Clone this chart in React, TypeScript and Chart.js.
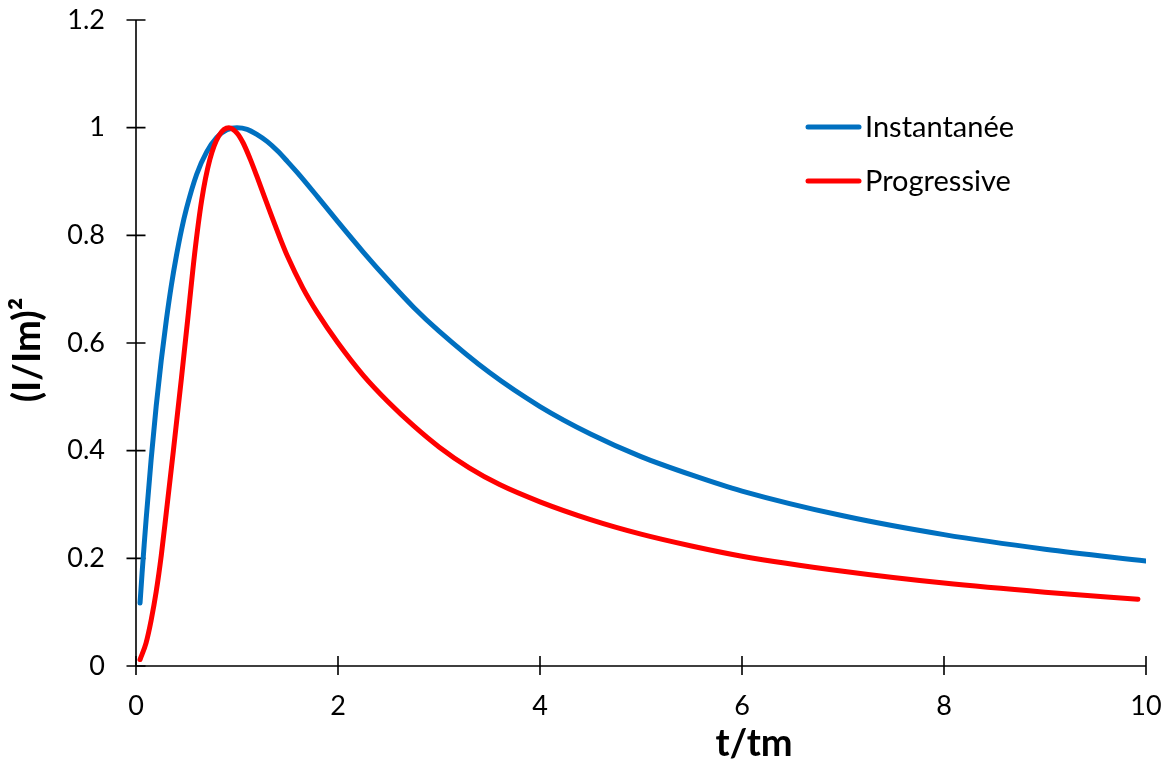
import React, { useEffect, useRef } from "react";
import { Chart, registerables } from "chart.js";

Chart.register(...registerables);

// t/tm values and (I/Im)^2
const instT = [0.04, 0.06, 0.08, 0.1, 0.15, 0.2, 0.25, 0.3, 0.35, 0.4, 0.45, 0.5, 0.6, 0.7, 0.8, 0.9, 1.0, 1.1, 1.2, 1.3, 1.4, 1.5, 1.6, 1.8, 2.0, 2.25, 2.5, 2.75, 3.0, 3.5, 4, 4.5, 5, 5.5, 6, 7, 8, 9, 10];
const instY = [0.117, 0.172, 0.223, 0.272, 0.384, 0.483, 0.568, 0.642, 0.707, 0.762, 0.81, 0.85, 0.913, 0.955, 0.982, 0.996, 1.0, 0.997, 0.987, 0.974, 0.957, 0.937, 0.916, 0.871, 0.825, 0.769, 0.716, 0.666, 0.622, 0.545, 0.482, 0.431, 0.389, 0.355, 0.325, 0.279, 0.244, 0.217, 0.195];

const progT = [0.04, 0.1, 0.15, 0.2, 0.25, 0.3, 0.37, 0.45, 0.52, 0.58, 0.65, 0.73, 0.82, 0.92, 1.0, 1.06, 1.13, 1.2, 1.33, 1.43, 1.5, 1.65, 1.8, 2.0, 2.25, 2.5, 2.75, 3.0, 3.3, 3.6, 4.0, 4.5, 5.0, 5.5, 6.0, 7.0, 8.0, 9.0, 9.92];
const progY = [0.012, 0.043, 0.085, 0.138, 0.205, 0.285, 0.4, 0.535, 0.658, 0.765, 0.865, 0.94, 0.985, 1.0, 0.99, 0.972, 0.942, 0.908, 0.842, 0.793, 0.761, 0.703, 0.655, 0.6, 0.54, 0.49, 0.446, 0.407, 0.368, 0.337, 0.305, 0.272, 0.245, 0.223, 0.204, 0.176, 0.154, 0.137, 0.124];

const seriesLabels = ["Instantanée", "Progressive"];
const seriesColors = ["#0070C0", "#FF0000"];

const xTicks = [0, 2, 4, 6, 8, 10];
const yTicks = [0, 0.2, 0.4, 0.6, 0.8, 1, 1.2];
const xTickLabels = ["0", "2", "4", "6", "8", "10"];
const yTickLabels = ["0", "0.2", "0.4", "0.6", "0.8", "1", "1.2"];

const xTitle = "t/tm";
const yTitle = "(I/Im)²";

const FONT = "Lato";

const axesPlugin = {
  id: "customAxes",
  beforeDatasetsDraw(chart: any) {
    const { ctx, scales } = chart;
    const xs = scales.x;
    const ys = scales.y;
    ctx.save();
    ctx.strokeStyle = "#000";
    ctx.lineWidth = 1.6;
    ctx.lineCap = "butt";
    const x0 = xs.getPixelForValue(0);
    const y0 = ys.getPixelForValue(0);
    ctx.beginPath();
    ctx.moveTo(x0, ys.getPixelForValue(yTicks[yTicks.length - 1]));
    ctx.lineTo(x0, y0);
    ctx.moveTo(x0, y0);
    ctx.lineTo(xs.getPixelForValue(xTicks[xTicks.length - 1]), y0);
    ctx.stroke();
    ctx.beginPath();
    for (const v of yTicks) {
      const p = ys.getPixelForValue(v);
      ctx.moveTo(x0 - 9.5, p);
      ctx.lineTo(x0 + 9.5, p);
    }
    for (const v of xTicks) {
      const p = xs.getPixelForValue(v);
      ctx.moveTo(p, y0 - 10);
      ctx.lineTo(p, y0 + 9);
    }
    ctx.stroke();
    ctx.restore();
  },
  afterDraw(chart: any) {
    const { ctx } = chart;
    ctx.save();
    // legend
    const rows = [127, 181];
    chart.data.datasets.forEach((ds: any, i: number) => {
      const y = rows[i];
      ctx.strokeStyle = ds.borderColor;
      ctx.lineWidth = 5;
      ctx.lineCap = "round";
      ctx.beginPath();
      ctx.moveTo(808, y);
      ctx.lineTo(859, y);
      ctx.stroke();
      ctx.fillStyle = "#000";
      ctx.font = `29px ${FONT}`;
      ctx.textBaseline = "middle";
      ctx.textAlign = "left";
      ctx.fillText(ds.label, 865, y + 1);
    });
    // axis titles
    ctx.fillStyle = "#000";
    ctx.font = `bold 38px ${FONT}`;
    ctx.textAlign = "center";
    ctx.textBaseline = "alphabetic";
    ctx.fillText(xTitle, 754, 756);
    ctx.translate(28, 350);
    ctx.rotate(-Math.PI / 2);
    ctx.textBaseline = "middle";
    ctx.fillText(yTitle, 0, 0);
    ctx.restore();
  },
};

export default function App() {
  const ref = useRef<HTMLCanvasElement | null>(null);
  useEffect(() => {
    if (!ref.current) return;
    const chart = new Chart(ref.current, {
      type: "line",
      data: {
        datasets: [
          {
            label: seriesLabels[0],
            data: instT.map((t, i) => ({ x: t, y: instY[i] })),
            borderColor: seriesColors[0],
            backgroundColor: seriesColors[0],
            borderWidth: 5,
            pointRadius: 0,
            cubicInterpolationMode: "monotone",
            borderCapStyle: "round",
            borderJoinStyle: "round",
            order: 2,
          },
          {
            label: seriesLabels[1],
            data: progT.map((t, i) => ({ x: t, y: progY[i] })),
            borderColor: seriesColors[1],
            backgroundColor: seriesColors[1],
            borderWidth: 5,
            pointRadius: 0,
            cubicInterpolationMode: "monotone",
            borderCapStyle: "round",
            borderJoinStyle: "round",
            order: 1,
          },
        ],
      },
      options: {
        responsive: false,
        animation: false,
        devicePixelRatio: 1,
        layout: { padding: { top: 20, right: 22, left: 0, bottom: 0 } },
        plugins: { legend: { display: false }, tooltip: { enabled: false } },
        scales: {
          x: {
            type: "linear",
            min: 0,
            max: 10,
            grid: { display: false, drawTicks: false },
            border: { display: false },
            afterBuildTicks: (s: any) => {
              s.ticks = xTicks.map((v) => ({ value: v }));
            },
            afterFit: (s: any) => {
              s.height = 101;
              s.paddingLeft = 0;
              s.paddingRight = 0;
              s.paddingTop = 0;
              s.paddingBottom = 0;
            },
            ticks: {
              padding: 24,
              color: "#000",
              font: { family: FONT, size: 27 },
              callback: (v: any) => xTickLabels[xTicks.indexOf(Number(v))] ?? "",
              maxRotation: 0,
            },
            title: { display: false },
          },
          y: {
            type: "linear",
            min: 0,
            max: 1.2,
            grid: { display: false, drawTicks: false },
            border: { display: false },
            afterBuildTicks: (s: any) => {
              s.ticks = yTicks.map((v) => ({ value: v }));
            },
            afterFit: (s: any) => {
              s.width = 136;
              s.paddingLeft = 0;
              s.paddingRight = 0;
              s.paddingTop = 0;
              s.paddingBottom = 0;
            },
            ticks: {
              padding: 31,
              color: "#000",
              font: { family: FONT, size: 27 },
              callback: (v: any) => {
                const idx = yTicks.findIndex((t) => Math.abs(t - Number(v)) < 1e-9);
                return idx >= 0 ? yTickLabels[idx] : "";
              },
            },
            title: { display: false },
          },
        },
      },
      plugins: [axesPlugin],
    });
    return () => chart.destroy();
  }, []);
  return (
    <div style={{ position: "absolute", left: 0, top: 0, width: 1168, height: 767, background: "#fff" }}>
      <canvas ref={ref} width={1168} height={767} style={{ display: "block" }} />
    </div>
  );
}
